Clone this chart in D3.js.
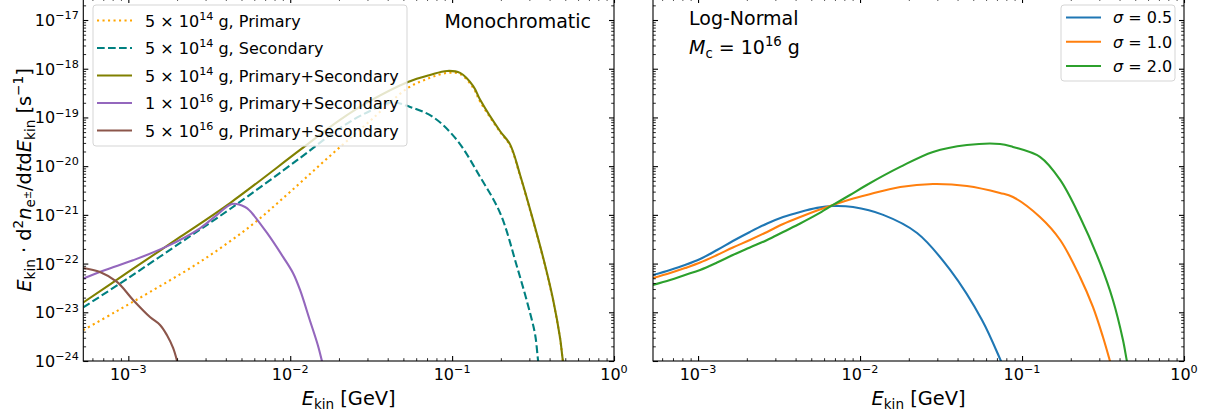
<!DOCTYPE html>
<html><head><meta charset="utf-8">
<script src="https://cdn.jsdelivr.net/npm/d3@7"></script>
<style>body{margin:0;background:#fff;} svg{display:block;font-family:"DejaVu Sans",sans-serif;}</style>
</head><body><svg id="c" width="1210" height="416"></svg>
<script>
// ---------- tick labels ----------
const majorX = [1e-3, 1e-2, 1e-1, 1];
const majorXExp = ["−3", "−2", "−1", "0"];
const majorY = [1e-24, 1e-23, 1e-22, 1e-21, 1e-20, 1e-19, 1e-18, 1e-17];
const majorYExp = ["−24", "−23", "−22", "−21", "−20", "−19", "−18", "−17"];

// ---------- left panel: Monochromatic ----------
const prim14E = [5.27e-4, 8.28e-4, 1.36e-3, 2.77e-3, 5.65e-3, 9.97e-3, 1.76e-2, 3.11e-2, 5.34e-2, 7.30e-2, 9.31e-2, 0.112, 0.135, 0.149, 0.198, 0.228, 0.263, 0.316, 0.375, 0.421, 0.465, 0.484, 0.505];
const prim14V = [4.3e-24, 1.01e-23, 2.61e-23, 1.08e-22, 5.8e-22, 2.95e-21, 1.62e-20, 8.47e-20, 4.04e-19, 6.5e-19, 8.2e-19, 7.8e-19, 4.04e-19, 2.1e-19, 5.0e-20, 2.65e-20, 6.3e-21, 7.6e-22, 9.0e-23, 1.71e-23, 2.8e-24, 9.6e-25, 4e-25];

const sec14E = [5.27e-4, 1.0e-3, 2.09e-3, 4.25e-3, 1.15e-2, 2.03e-2, 3.11e-2, 4.26e-2, 5.50e-2, 7.62e-2, 0.107, 0.149, 0.198, 0.252, 0.303, 0.326, 0.340, 0.35];
const sec14V = [1.26e-23, 5.06e-23, 2.65e-22, 1.32e-21, 1.47e-20, 6.08e-20, 1.36e-19, 2.03e-19, 1.64e-19, 1.02e-19, 3.45e-20, 6.0e-21, 1.09e-21, 8.5e-23, 9.7e-24, 3.42e-24, 1e-24, 5.2e-25];

const tot14E = [5.27e-4, 1.0e-3, 2.09e-3, 4.25e-3, 1.15e-2, 2.03e-2, 3.11e-2, 5.34e-2, 7.30e-2, 9.31e-2, 0.112, 0.135, 0.149, 0.198, 0.228, 0.263, 0.316, 0.375, 0.421, 0.465, 0.484, 0.505];
const tot14V = [1.59e-23, 6.73e-23, 3.52e-22, 1.75e-21, 2.15e-20, 8.9e-20, 2.18e-19, 5.36e-19, 7.46e-19, 9.0e-19, 8.2e-19, 4.4e-19, 2.3e-19, 5.2e-20, 2.8e-20, 6.6e-21, 7.9e-22, 9.35e-23, 1.79e-23, 2.9e-24, 1e-24, 5.2e-25];

const tot1e16E = [5.27e-4, 7.2e-4, 1.07e-3, 1.73e-3, 2.77e-3, 3.53e-3, 4.37e-3, 5.26e-3, 5.65e-3, 7.19e-3, 9.03e-3, 1.04e-2, 1.15e-2, 1.32e-2, 1.48e-2, 1.57e-2, 1.62e-2];
const tot1e16V = [4.94e-23, 7.4e-23, 1.17e-22, 2.25e-22, 5.3e-22, 1.0e-21, 1.67e-21, 1.45e-21, 1.20e-21, 4.25e-22, 1.37e-22, 6.4e-23, 2.87e-23, 6.95e-24, 2.13e-24, 1e-24, 6.5e-25];

const tot5e16E = [5.27e-4, 6.68e-4, 8.51e-4, 1.07e-3, 1.36e-3, 1.57e-3, 1.73e-3, 1.89e-3, 2.0e-3, 2.06e-3];
const tot5e16V = [8.1e-23, 6.7e-23, 4.2e-23, 1.79e-23, 8.0e-24, 5.5e-24, 3.42e-24, 1.85e-24, 1e-24, 6.5e-25];

// ---------- right panel: Log-Normal, Mc = 1e16 g ----------
const ln05E = [5.27e-4, 6.72e-4, 8.31e-4, 1.03e-3, 1.31e-3, 1.64e-3, 2.09e-3, 2.67e-3, 3.35e-3, 4.27e-3, 5.43e-3, 6.81e-3, 9.05e-3, 1.39e-2, 2.25e-2, 3.60e-2, 5.66e-2, 7.41e-2, 7.74e-2];
const ln05V = [5.83e-23, 7.40e-23, 9.35e-23, 1.24e-22, 1.90e-22, 2.91e-22, 4.46e-22, 6.65e-22, 9.05e-22, 1.15e-21, 1.39e-21, 1.52e-21, 1.45e-21, 1.0e-21, 4.25e-22, 7.4e-23, 6.95e-24, 1e-24, 7.2e-25];

const ln10E = [5.27e-4, 6.72e-4, 8.31e-4, 1.03e-3, 1.31e-3, 1.64e-3, 2.09e-3, 2.67e-3, 3.35e-3, 4.27e-3, 5.43e-3, 6.81e-3, 8.67e-3, 1.10e-2, 1.77e-2, 2.82e-2, 4.57e-2, 7.31e-2, 8.79e-2, 0.129, 0.172, 0.228, 0.274, 0.316, 0.349, 0.364];
const ln10V = [5.06e-23, 6.41e-23, 8.1e-23, 1.05e-22, 1.50e-22, 2.14e-22, 3.05e-22, 4.46e-22, 6.50e-22, 9.05e-22, 1.23e-21, 1.60e-21, 2.07e-21, 2.56e-21, 3.74e-21, 4.31e-21, 3.92e-21, 2.82e-21, 2.33e-21, 9.05e-22, 3.05e-22, 5.31e-23, 1.29e-23, 3.11e-24, 1e-24, 6e-25];

const ln20E = [5.27e-4, 6.72e-4, 8.31e-4, 1.03e-3, 1.31e-3, 1.64e-3, 2.09e-3, 2.67e-3, 3.35e-3, 4.27e-3, 5.43e-3, 6.81e-3, 8.67e-3, 1.10e-2, 1.77e-2, 2.82e-2, 4.57e-2, 7.31e-2, 8.79e-2, 0.129, 0.172, 0.228, 0.303, 0.364, 0.420, 0.444, 0.457];
const ln20V = [3.64e-23, 4.60e-23, 5.83e-23, 7.4e-23, 1.05e-22, 1.50e-22, 2.14e-22, 3.05e-22, 4.46e-22, 6.65e-22, 1.02e-21, 1.60e-21, 2.56e-21, 4.11e-21, 9.64e-21, 1.96e-20, 2.72e-20, 2.86e-20, 2.48e-20, 1.55e-20, 5.21e-21, 9.05e-22, 1.03e-22, 1.79e-23, 2.7e-24, 1e-24, 6.5e-25];

// ---------- layout ----------
const svg = d3.select("#c");
const xDomain = [5.27e-4, 1];
const yDomain = [1e-24, Math.pow(10, -16.548)];
const yTop = -2, yBot = 361;
const TICKFS = 16, LEGFS = 16, ANNFS = 19, LABFS = 19.4;

function rich(t, parts, fs) {
  let cur = 0;
  parts.forEach(p => {
    let off = 0, size = fs;
    if (p.sup) { off = -0.42 * fs; size = 0.7 * fs; }
    if (p.sub) { off = 0.22 * fs; size = 0.7 * fs; }
    if (p.subsup) { off = -0.02 * fs; size = 0.5 * fs; }
    const ts = t.append("tspan").text(p.t).attr("dy", (off - cur).toFixed(2)).attr("font-size", size);
    if (p.it) ts.attr("font-style", "italic");
    cur = off;
  });
}

function minorVals(lo, hi, d0, d1) {
  const out = [];
  for (let d = d0; d <= d1; d++) for (let k = 2; k <= 9; k++) {
    const v = k * Math.pow(10, d);
    if (v > lo && v < hi) out.push(v);
  }
  return out;
}

function panel(x0, x1, id, series, showY) {
  const xs = d3.scaleLog().domain(xDomain).range([x0, x1]);
  const ys = d3.scaleLog().domain(yDomain).range([yBot, yTop]);
  const g = svg.append("g");
  svg.append("clipPath").attr("id", id).append("rect")
    .attr("x", x0).attr("y", yTop).attr("width", x1 - x0).attr("height", yBot - yTop);
  const line = d3.line().x(d => xs(d[0])).y(d => ys(d[1])).curve(d3.curveCatmullRom.alpha(0.5));
  const lg = g.append("g").attr("clip-path", `url(#${id})`);
  series.forEach(s => {
    const pts = s.E.map((e, i) => [e, s.V[i]]);
    lg.append("path").attr("d", line(pts)).attr("fill", "none")
      .attr("stroke", s.color).attr("stroke-width", 2.1)
      .attr("stroke-dasharray", s.dash || null).attr("stroke-linejoin", "round");
  });

  const mx = minorVals(xDomain[0], xDomain[1], -4, 0);
  const my = minorVals(yDomain[0], yDomain[1], -25, -17);
  function tk(sel, gen, vals, size, w) {
    sel.call(gen.tickValues(vals).tickSize(size).tickSizeOuter(0).tickFormat(() => ""));
    sel.select(".domain").remove();
    sel.selectAll(".tick line").attr("stroke", "#000").attr("stroke-width", w);
    sel.selectAll(".tick text").remove();
  }
  const ax = g.append("g");
  const gens = () => [[d3.axisBottom(xs), `translate(0,${yBot})`, 1],
   [d3.axisTop(xs), `translate(0,${yTop})`, 1],
   [d3.axisLeft(ys), `translate(${x0},0)`, 0],
   [d3.axisRight(ys), `translate(${x1},0)`, 0]];
  gens().forEach(([gen, tr, isX]) => tk(ax.append("g").attr("transform", tr), gen, isX ? mx : my, -2.8, 0.85));
  gens().forEach(([gen, tr, isX]) => tk(ax.append("g").attr("transform", tr), gen, isX ? majorX : majorY, -5, 1.1));
  g.append("rect").attr("x", x0).attr("y", yTop).attr("width", x1 - x0).attr("height", yBot - yTop)
    .attr("fill", "none").attr("stroke", "#000").attr("stroke-width", 1.1);

  majorX.forEach((v, i) => {
    const t = g.append("text").attr("x", xs(v)).attr("y", 380).attr("text-anchor", "middle")
      .attr("font-size", TICKFS).attr("fill", "#000");
    rich(t, [{t: "10"}, {t: majorXExp[i], sup: true}], TICKFS);
  });
  if (showY) {
    majorY.forEach((v, i) => {
      const t = g.append("text").attr("x", x0 - 4.5).attr("y", ys(v) + 6).attr("text-anchor", "end")
        .attr("font-size", TICKFS).attr("fill", "#000");
      rich(t, [{t: "10"}, {t: majorYExp[i], sup: true}], TICKFS);
    });
  }
  const xl = g.append("text").attr("x", (x0 + x1) / 2).attr("y", 405).attr("text-anchor", "middle")
    .attr("font-size", LABFS).attr("fill", "#000");
  rich(xl, [{t: "E", it: true}, {t: "kin", sub: true}, {t: " [GeV]"}], LABFS);
  return g;
}

const leftSeries = [
  {E: prim14E, V: prim14V, color: "#ffa500", dash: "2.1,3.4", label: [{t: "5 × 10"}, {t: "14", sup: true}, {t: " g, Primary"}]},
  {E: sec14E, V: sec14V, color: "#008080", dash: "7.7,3.3", label: [{t: "5 × 10"}, {t: "14", sup: true}, {t: " g, Secondary"}]},
  {E: tot14E, V: tot14V, color: "#808000", label: [{t: "5 × 10"}, {t: "14", sup: true}, {t: " g, Primary+Secondary"}]},
  {E: tot1e16E, V: tot1e16V, color: "#9467bd", label: [{t: "1 × 10"}, {t: "16", sup: true}, {t: " g, Primary+Secondary"}]},
  {E: tot5e16E, V: tot5e16V, color: "#8c564b", label: [{t: "5 × 10"}, {t: "16", sup: true}, {t: " g, Primary+Secondary"}]}
];
const rightSeries = [
  {E: ln05E, V: ln05V, color: "#1f77b4", label: [{t: "σ", it: true}, {t: " = 0.5"}]},
  {E: ln10E, V: ln10V, color: "#ff7f0e", label: [{t: "σ", it: true}, {t: " = 1.0"}]},
  {E: ln20E, V: ln20V, color: "#2ca02c", label: [{t: "σ", it: true}, {t: " = 2.0"}]}
];

panel(83.3, 614, "clipL", leftSeries, true);
panel(653, 1184, "clipR", rightSeries, false);

// y label
const yl = svg.append("text").attr("transform", "translate(31,180) rotate(-90)")
  .attr("text-anchor", "middle").attr("font-size", LABFS).attr("fill", "#000");
rich(yl, [{t: "E", it: true}, {t: "kin", sub: true}, {t: " · d"}, {t: "2", sup: true}, {t: "n", it: true},
  {t: "e", sub: true}, {t: "±", subsup: true}, {t: "/d"}, {t: "t", it: true}, {t: "d"}, {t: "E", it: true},
  {t: "kin", sub: true}, {t: " [s"}, {t: "−1", sup: true}, {t: "]"}], LABFS);

// annotations
svg.append("text").attr("x", 591).attr("y", 27.5).attr("text-anchor", "end")
  .attr("font-size", ANNFS).text("Monochromatic");
svg.append("text").attr("x", 689).attr("y", 25).attr("font-size", ANNFS).text("Log-Normal");
const mc = svg.append("text").attr("x", 689).attr("y", 54).attr("font-size", ANNFS);
rich(mc, [{t: "M", it: true}, {t: "c", sub: true}, {t: " = 10"}, {t: "16", sup: true}, {t: " g"}], ANNFS);

// legends
function legend(x, y, w, h, rows, series, lx0, lx1, tx, dyText) {
  const g = svg.append("g");
  g.append("rect").attr("x", x).attr("y", y).attr("width", w).attr("height", h).attr("rx", 3)
    .attr("fill", "#fff").attr("fill-opacity", 0.8).attr("stroke", "#d5d5d5").attr("stroke-width", 1);
  series.forEach((s, i) => {
    g.append("line").attr("x1", lx0).attr("x2", lx1).attr("y1", rows[i]).attr("y2", rows[i])
      .attr("stroke", s.color).attr("stroke-width", 2.1).attr("stroke-dasharray", s.dash || null);
    const t = g.append("text").attr("x", tx).attr("y", rows[i] + dyText).attr("font-size", LEGFS).attr("fill", "#000");
    rich(t, s.label, LEGFS);
  });
}
legend(93, 5, 314, 141, [20.5, 48, 75.5, 103, 130.5], leftSeries, 97, 132, 145, 6);
legend(1061, 5, 114, 76, [17.5, 41.8, 66], rightSeries, 1066, 1101, 1113, 5.8);
</script></body></html>
